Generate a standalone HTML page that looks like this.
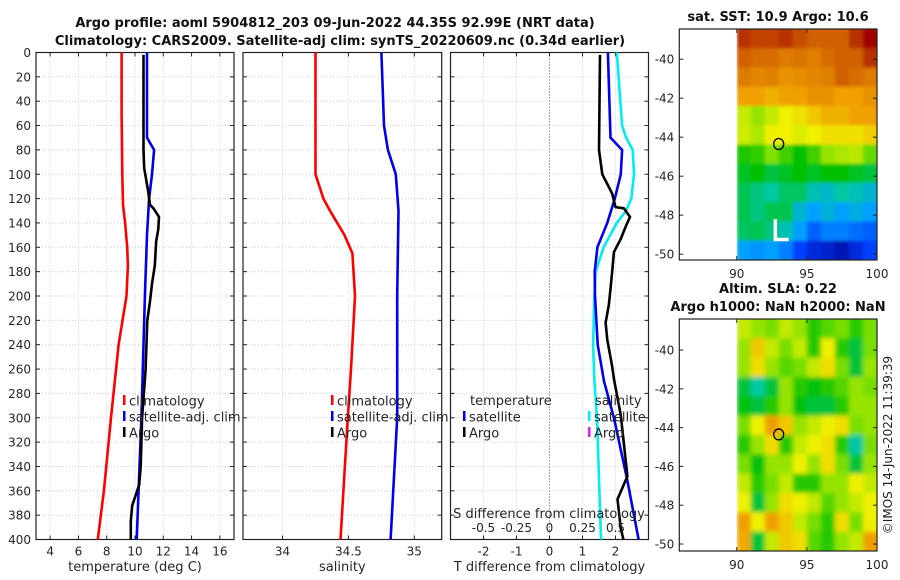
<!DOCTYPE html>
<html><head><meta charset="utf-8"><style>
html,body{margin:0;padding:0;background:#fff;}
svg{display:block;font-family:"DejaVu Sans","Liberation Sans",sans-serif;}
</style></head><body>
<svg id="fig" width="900" height="580" viewBox="0 0 900 580" xmlns="http://www.w3.org/2000/svg">
<defs>
<filter id="blurS" x="-5%" y="-5%" width="110%" height="110%"><feGaussianBlur stdDeviation="1.5"/></filter>
<filter id="blurL" x="-5%" y="-5%" width="110%" height="110%"><feGaussianBlur stdDeviation="2.5"/></filter>
<clipPath id="clipSST"><rect x="736.7" y="29" width="140.3" height="231"/></clipPath>
<clipPath id="clipSLA"><rect x="736.7" y="319" width="140.3" height="232"/></clipPath>
</defs>
<rect width="900" height="580" fill="#fff"/>
<text x="335" y="27" text-anchor="middle" font-size="13" font-weight="bold" fill="#111">Argo profile: aoml 5904812_203 09-Jun-2022 44.35S 92.99E (NRT data)</text>
<text x="340" y="45" text-anchor="middle" font-size="13" font-weight="bold" fill="#111">Climatology: CARS2009. Satellite-adj clim: synTS_20220609.nc (0.34d earlier)</text>
<text x="778" y="21" text-anchor="middle" font-size="13" font-weight="bold" fill="#111">sat. SST: 10.9 Argo: 10.6</text>
<text x="778" y="293" text-anchor="middle" font-size="13" font-weight="bold" fill="#111">Altim. SLA: 0.22</text>
<text x="778" y="311" text-anchor="middle" font-size="13" font-weight="bold" fill="#111">Argo h1000: NaN h2000: NaN</text>
<text transform="translate(892,445) rotate(-90)" text-anchor="middle" font-size="12" fill="#222">©IMOS 14-Jun-2022 11:39:39</text>
<g id="layer"></g>
</svg>
<script>
// ---------- data ----------
const depthTicks=[0,20,40,60,80,100,120,140,160,180,200,220,240,260,280,300,320,340,360,380,400];
const tempTicks=[4,6,8,10,12,14,16];
const salTicks=[34,34.5,35];
const salTickLabels=["34","34.5","35"];
const dTTicks=[-2,-1,0,1,2];
const dSTicks=[-0.5,-0.25,0,0.25,0.5];
const dSTickLabels=["-0.5","-0.25","0","0.25","0.5"];

const tClimDepth=[0,50,100,125,140,160,175,200,240,300,360,400];
const tClim=[9.05,9.05,9.1,9.15,9.3,9.45,9.5,9.4,8.84,8.3,7.8,7.37];
const tSatDepth=[0,70,80,100,120,150,200,300,400];
const tSat=[10.85,10.85,11.35,11.2,11.0,10.85,10.7,10.45,10.12];
const tArgoDepth=[2,80,95,105,115,125,128,135,145,155,175,190,205,220,260,300,340,355,362,372,385,400];
const tArgo=[10.6,10.6,10.65,10.8,10.95,11.05,11.3,11.7,11.65,11.5,11.4,11.2,11.05,10.87,10.75,10.5,10.4,10.3,10.1,9.8,9.7,9.7];

const sClimDepth=[0,100,120,130,150,165,200,260,300,400];
const sClim=[34.25,34.25,34.31,34.36,34.47,34.53,34.55,34.52,34.495,34.44];
const sSatDepth=[0,60,80,100,130,200,300,400];
const sSat=[34.75,34.77,34.8,34.86,34.88,34.87,34.87,34.82];

const dTSatDepth=[0,70,80,100,120,140,160,180,200,240,270,300,350,400];
const dTSat=[1.77,1.85,2.2,2.16,1.98,1.75,1.45,1.37,1.38,1.46,1.65,1.95,2.35,2.7];
const dTArgoDepth=[2,80,100,108,116,127,128,135,143,153,164,180,207,222,236,258,268,298,348,367,391,400];
const dTArgo=[1.53,1.5,1.6,1.75,1.9,2.0,2.25,2.44,2.31,2.16,1.95,1.9,1.8,1.7,1.75,1.9,1.95,2.16,2.36,2.06,2.16,2.24];
const dSSatDepth=[0,60,70,80,100,120,130,140,160,180,200,240,270,300,400];
const dSSat=[0.51,0.55,0.58,0.63,0.64,0.62,0.58,0.51,0.41,0.35,0.34,0.33,0.34,0.36,0.39];

const lonTicks=[90,95,100];
const latTicks=[-40,-42,-44,-46,-48,-50];
const sstGrid=[
[.95,.93,.93,.95,.92,.9,.9,.9,.95,1.0],
[.9,.88,.88,.86,.87,.85,.88,.9,.9,.95],
[.86,.84,.85,.82,.83,.84,.85,.9,.88,.86],
[.8,.8,.78,.8,.8,.82,.82,.8,.8,.82],
[.66,.62,.66,.7,.72,.75,.78,.78,.8,.8],
[.67,.64,.7,.7,.68,.7,.72,.72,.72,.74],
[.52,.54,.6,.55,.5,.55,.62,.64,.65,.58],
[.48,.5,.46,.48,.5,.48,.5,.5,.48,.46],
[.45,.42,.4,.44,.44,.38,.36,.4,.38,.35],
[.45,.42,.45,.45,.35,.3,.34,.3,.33,.3],
[.44,.45,.42,.38,.3,.2,.25,.25,.22,.2],
[.3,.28,.3,.25,.15,.1,.08,.05,.1,.15]];
const slaGrid=[
[.65,.62,.6,.65,.62,.55,.58,.6,.55,.6],
[.62,.72,.65,.6,.65,.55,.68,.55,.5,.6],
[.62,.7,.62,.58,.6,.65,.7,.6,.5,.62],
[.5,.45,.5,.62,.55,.52,.55,.58,.62,.6],
[.52,.5,.55,.62,.52,.5,.5,.55,.62,.62],
[.6,.68,.76,.72,.62,.65,.68,.7,.6,.62],
[.55,.62,.7,.55,.65,.68,.7,.55,.45,.6],
[.6,.52,.62,.62,.68,.62,.7,.6,.5,.62],
[.65,.55,.6,.65,.55,.55,.62,.62,.68,.65],
[.68,.5,.62,.7,.68,.65,.58,.62,.65,.68],
[.76,.68,.76,.72,.65,.6,.55,.7,.6,.68],
[.75,.5,.65,.72,.7,.58,.55,.62,.65,.76]];
const argoLon=[92.99];
const argoLat=[-44.35];

// ---------- helpers ----------
const NS="http://www.w3.org/2000/svg";
const layer=document.getElementById('layer');
function mk(tag,attrs,parent){const e=document.createElementNS(NS,tag);for(const k in attrs)e.setAttribute(k,attrs[k]);(parent||layer).appendChild(e);return e;}
const Y0=52.5,Y1=539.5;
const yD=d=>Y0+(d/400)*(Y1-Y0);
const lin=(d0,d1,r0,r1)=>v=>r0+(v-d0)/(d1-d0)*(r1-r0);
const TXT="#262626";

function profilePanel(name,x0,x1,xs,ticks,labels,showYLabels,xlabel,zeroLine){
  const g=mk('g',{});
  
  
  depthTicks.forEach(d=>{const l=mk('line',{x1:x0,x2:x1,y1:yD(d),y2:yD(d),stroke:'#c5cbe8','stroke-width':1,'stroke-dasharray':'1,2'},g);
    });
  ticks.forEach((t,i)=>{
    const x=xs(t);
    if(zeroLine&&t===0){const z=mk('line',{x1:x,x2:x,y1:Y0,y2:Y1,stroke:'#4a6a2a','stroke-width':1,'stroke-dasharray':'1,2'},g);
      }
    else{const l=mk('line',{x1:x,x2:x,y1:Y0,y2:Y1,stroke:'#c5cbe8','stroke-width':1,'stroke-dasharray':'1,2'},g);
      }
    mk('line',{x1:x,x2:x,y1:Y1,y2:Y1-4,stroke:'#222'},g);
    mk('line',{x1:x,x2:x,y1:Y0,y2:Y0+4,stroke:'#222'},g);
    const tl=mk('text',{x:x,y:Y1+16,'text-anchor':'middle','font-size':12,fill:TXT},g);
    
    tl.textContent=labels[i];
  });
  depthTicks.forEach(d=>{
    mk('line',{x1:x0,x2:x0+4,y1:yD(d),y2:yD(d),stroke:'#222'},g);
    mk('line',{x1:x1,x2:x1-4,y1:yD(d),y2:yD(d),stroke:'#222'},g);
    if(showYLabels){const t=mk('text',{x:x0-5,y:yD(d)+4.5,'text-anchor':'end','font-size':12,fill:TXT},g);
      t.textContent=d;}
  });
  const fr=mk('rect',{x:x0,y:Y0,width:x1-x0,height:Y1-Y0,fill:'none',stroke:'#222','stroke-width':1.2},g);
  
  const xl=mk('text',{x:(x0+x1)/2,y:571,'text-anchor':'middle','font-size':13,fill:TXT},g);
  
  xl.textContent=xlabel;
  return g;
}
function series(g,name,depths,vals,xs,color){
  const pts=depths.map((d,i)=>xs(vals[i]).toFixed(1)+','+yD(d).toFixed(1)).join(' ');
  const p=mk('polyline',{points:pts,fill:'none',stroke:color,'stroke-width':2.6,'stroke-linejoin':'round'},g);
  
  
}
function legend(g,x,y,color,label,name){
  const s=mk('rect',{x:x,y:y-6,width:2.5,height:10,fill:color},g);
  
  const t=mk('text',{x:x+6,y:y+4.5,'font-size':13,fill:TXT},g);
  
  t.textContent=label;
}

const xT=lin(3,17,36,234);
const g1=profilePanel('temperature-panel',36,234,xT,tempTicks,tempTicks.map(String),true,'temperature (deg C)',false);
series(g1,'temp-climatology-line',tClimDepth,tClim,xT,'#ff0000');
series(g1,'temp-satellite-line',tSatDepth,tSat,xT,'#0000ee');
series(g1,'temp-argo-line',tArgoDepth,tArgo,xT,'#000');
legend(g1,123,401,'#ff0000','climatology','legend-climatology');
legend(g1,123,417,'#0000ee','satellite-adj. clim','legend-satellite');
legend(g1,123,433,'#000','Argo','legend-argo');

const xS=lin(33.7,35.208,243,441.7);
const g2=profilePanel('salinity-panel',243,441.7,xS,salTicks,salTickLabels,false,'salinity',false);
series(g2,'sal-climatology-line',sClimDepth,sClim,xS,'#ff0000');
series(g2,'sal-satellite-line',sSatDepth,sSat,xS,'#0000ee');
legend(g2,331,401,'#ff0000','climatology','legend-climatology');
legend(g2,331,417,'#0000ee','satellite-adj. clim','legend-satellite');
legend(g2,331,433,'#000','Argo','legend-argo');

const xdT=lin(-3,3,450.5,648.5);
const xdS=v=>xdT(v*4);
const g3=profilePanel('difference-panel',450.5,648.5,xdT,dTTicks,dTTicks.map(String),false,'T difference from climatology',true);
series(g3,'sal-diff-satellite-line',dSSatDepth,dSSat,xdS,'#00eeee');
series(g3,'temp-diff-satellite-line',dTSatDepth,dTSat,xdT,'#0000ee');
series(g3,'temp-diff-argo-line',dTArgoDepth,dTArgo,xdT,'#000');
dSTicks.forEach((t,i)=>{const tl=mk('text',{x:xdS(t),y:532,'text-anchor':'middle','font-size':12,fill:TXT},g3);
  tl.textContent=dSTickLabels[i];});
const sdt=mk('text',{x:549,y:518,'text-anchor':'middle','font-size':13,fill:TXT},g3);

sdt.textContent='S difference from climatology';
const th=mk('text',{x:470,y:405,'font-size':13,fill:TXT},g3);
th.textContent='temperature';
const sh=mk('text',{x:595,y:405,'font-size':13,fill:TXT},g3);
sh.textContent='salinity';
legend(g3,463,417,'#0000ee','satellite','legend-temp-satellite');
legend(g3,463,433,'#000','Argo','legend-temp-argo');
legend(g3,588,417,'#00eeee','satellite','legend-sal-satellite');
legend(g3,588,433,'#dd22dd','Argo','legend-sal-argo');

const stops=[[0,[0,0,143]],[0.15,[0,64,255]],[0.3,[0,160,255]],[0.4,[0,200,160]],[0.5,[0,192,0]],[0.6,[128,224,0]],[0.7,[240,240,0]],[0.8,[240,160,0]],[0.9,[208,96,0]],[1,[160,0,0]]];
function cmap(v){v=Math.max(0,Math.min(1,v));for(let i=1;i<stops.length;i++){if(v<=stops[i][0]){const a=stops[i-1],b=stops[i],f=(v-a[0])/(b[0]-a[0]);
  return 'rgb('+a[1].map((c,k)=>Math.round(c+(b[1][k]-c)*f)).join(',')+')';}}return 'rgb(160,0,0)';}
function mapPanel(name,top,bot,latTop,latBot,grid,withMark,clipId,filtId,contrast){
  const x0=679.3,x1=877;
  const xL=lin(85.9,100,x0,x1), yL=lin(latTop,latBot,top,bot);
  const g=mk('g',{});
  
  const clipG=mk('g',{'clip-path':'url(#'+clipId+')'},g);
  const img=mk('g',{filter:'url(#'+filtId+')'},clipG);
  
  const rows=grid.length,cols=grid[0].length;
  const latStep=(latTop-latBot)/rows;
  grid.forEach((row,r)=>row.forEach((v,c)=>{
    let xa=xL(90+c),xb=xL(91+c),ya=yL(latTop-r*latStep),yb=yL(latTop-(r+1)*latStep);
    if(c===cols-1)xb+=8; if(r===0)ya-=8; if(r===rows-1)yb+=8;
    const vv=contrast?0.62-(0.62-v)*contrast:v;
    const cell=mk('rect',{x:xa.toFixed(2),y:ya.toFixed(2),width:(xb-xa+0.4).toFixed(2),height:(yb-ya+0.4).toFixed(2),fill:cmap(vv)},img);
    
  }));
  if(withMark){
    const m=mk('path',{d:`M${xL(92.75)},${yL(-48.2)} V${yL(-49.25)} H${xL(93.7)}`,fill:'none',stroke:'#fff','stroke-width':3.5},g);
    
  }
  argoLon.forEach((lo,i)=>{const c=mk('ellipse',{cx:xL(lo),cy:yL(argoLat[i]),rx:5,ry:5.5,fill:'none',stroke:'#000','stroke-width':1.3},g);
    });
  latTicks.forEach(t=>{const y=yL(t);
    mk('line',{x1:x0,x2:x0+4,y1:y,y2:y,stroke:'#222'},g);mk('line',{x1:x1,x2:x1-4,y1:y,y2:y,stroke:'#222'},g);
    const tl=mk('text',{x:x0-5,y:y+4.5,'text-anchor':'end','font-size':12,fill:TXT},g);
    tl.textContent=t;});
  lonTicks.forEach(t=>{const x=xL(t);
    mk('line',{x1:x,x2:x,y1:bot,y2:bot-4,stroke:'#222'},g);mk('line',{x1:x,x2:x,y1:top,y2:top+4,stroke:'#222'},g);
    const tl=mk('text',{x:x,y:bot+18,'text-anchor':'middle','font-size':12,fill:TXT},g);
    tl.textContent=t;});
  const fr=mk('rect',{x:x0,y:top,width:x1-x0,height:bot-top,fill:'none',stroke:'#222','stroke-width':1.2},g);
  
}
mapPanel('sst-map',29,260,-38.45,-50.3,sstGrid,true,'clipSST','blurS',0);
mapPanel('sla-map',319,551,-38.4,-50.36,slaGrid,false,'clipSLA','blurL',1.3);
</script>
</body></html>
